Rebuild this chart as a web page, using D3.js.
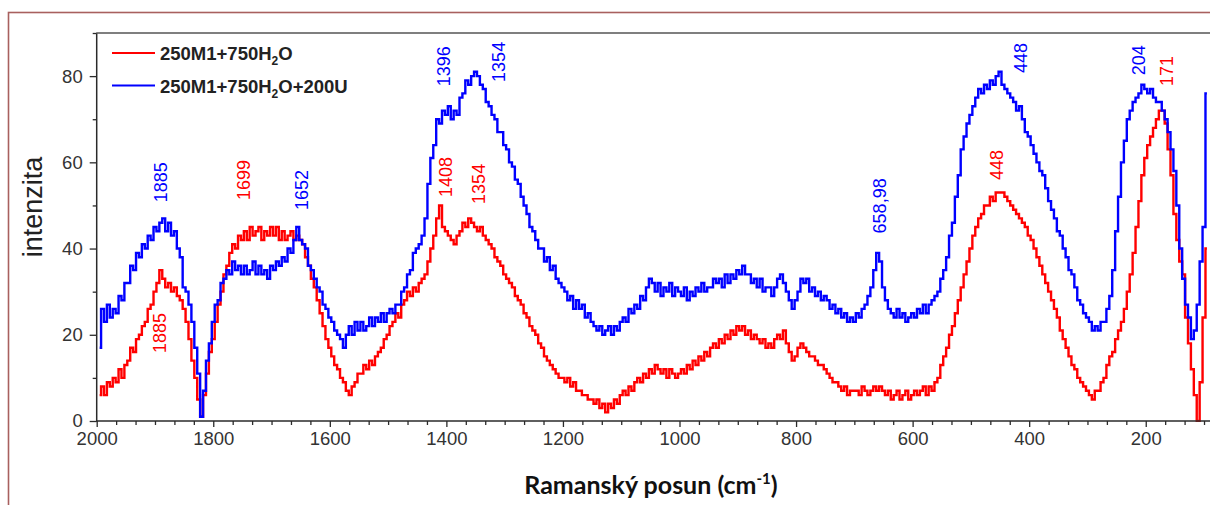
<!DOCTYPE html>
<html>
<head>
<meta charset="utf-8">
<script src="https://cdn.jsdelivr.net/npm/d3@7"></script>
<style>
  html, body { margin: 0; padding: 0; background: #fff; }
  svg { display: block; }
</style>
</head>
<body>
<svg id="chart" width="1210" height="505"></svg>
<script>
// Raman shift grid (cm-1), 1995 down to 95 in steps of 5
const ramanShift = d3.range(1995, 94, -5);

// 250M1+750H2O
const intensityWater = [
  6, 8, 6, 9, 8, 10, 9, 12, 10, 13,
  14, 17, 16, 19, 20, 22, 23, 26, 27, 30,
  32, 35, 33, 31, 32, 30, 31, 29, 28, 26,
  23, 19, 14, 10, 5, 1, 6, 11, 16, 19,
  23, 27, 30, 34, 36, 39, 41, 40, 43, 42,
  44, 42, 45, 43, 44, 45, 42, 44, 43, 45,
  43, 45, 42, 44, 42, 43, 44, 42, 43, 42,
  41, 38, 36, 33, 31, 28, 25, 22, 19, 17,
  15, 13, 12, 10, 9, 7, 6, 8, 9, 11,
  11, 13, 12, 14, 13, 15, 16, 17, 19, 20,
  22, 23, 25, 24, 27, 28, 30, 29, 31, 30,
  32, 33, 34, 37, 40, 43, 47, 50, 45, 44,
  43, 42, 41, 43, 44, 46, 45, 47, 46, 45,
  44, 45, 43, 42, 41, 40, 38, 37, 36, 34,
  33, 32, 31, 29, 28, 27, 25, 24, 22, 21,
  20, 18, 17, 15, 14, 13, 12, 11, 10, 10,
  9, 10, 8, 9, 7, 7, 6, 6, 5, 5,
  4, 5, 3, 4, 2, 4, 3, 5, 4, 6,
  7, 6, 8, 7, 9, 10, 9, 11, 10, 12,
  11, 13, 12, 11, 12, 10, 12, 11, 10, 11,
  12, 11, 13, 12, 14, 13, 15, 14, 16, 15,
  17, 18, 17, 19, 18, 20, 19, 21, 20, 22,
  21, 22, 20, 21, 19, 20, 19, 18, 19, 17,
  18, 17, 19, 20, 19, 21, 18, 16, 14, 15,
  17, 18, 17, 16, 15, 15, 14, 13, 13, 12,
  11, 10, 9, 9, 8, 7, 8, 6, 7, 7,
  7, 6, 8, 7, 6, 7, 8, 7, 8, 7,
  6, 7, 5, 6, 7, 5, 6, 7, 5, 6,
  7, 6, 7, 8, 6, 8, 7, 9, 10, 13,
  15, 17, 20, 22, 25, 28, 31, 34, 37, 40,
  43, 45, 47, 48, 50, 50, 52, 51, 53, 53,
  53, 52, 51, 50, 49, 48, 47, 46, 45, 43,
  42, 40, 38, 36, 34, 32, 30, 28, 26, 24,
  21, 19, 17, 15, 13, 12, 10, 9, 8, 7,
  6, 5, 7, 7, 9, 10, 13, 15, 16, 19,
  21, 23, 26, 30, 34, 39, 45, 51, 57, 61,
  64, 66, 68, 70, 72, 72, 69, 63, 57, 48,
  42, 37, 34, 24, 18, 12, 6, 0, 9, 24,
  40
];

// 250M1+750H2O+200U
const intensityUrea = [
  17, 26, 23, 27, 24, 26, 25, 29, 28, 32,
  32, 36, 35, 39, 38, 41, 40, 43, 42, 45,
  44, 46, 47, 44, 46, 43, 44, 40, 38, 31,
  30, 27, 23, 17, 11, 1, 7, 14, 18, 23,
  27, 28, 32, 33, 35, 34, 37, 35, 36, 34,
  36, 34, 35, 37, 34, 36, 34, 35, 33, 36,
  35, 37, 36, 38, 37, 40, 39, 42, 45, 42,
  41, 40, 36, 35, 33, 31, 30, 27, 26, 24,
  23, 21, 20, 19, 17, 20, 22, 20, 23, 21,
  23, 21, 22, 24, 22, 24, 23, 25, 23, 25,
  26, 25, 27, 27, 30, 31, 34, 35, 39, 40,
  41, 43, 47, 55, 61, 64, 70, 69, 72, 71,
  73, 70, 72, 71, 75, 76, 79, 78, 80, 81,
  80, 78, 77, 74, 73, 71, 70, 67, 67, 64,
  63, 60, 59, 56, 55, 52, 50, 48, 45, 44,
  42, 40, 40, 37, 38, 35, 36, 33, 32, 31,
  30, 28, 29, 26, 28, 26, 27, 24, 25, 23,
  22, 21, 22, 20, 21, 22, 20, 22, 21, 23,
  24, 23, 26, 25, 27, 26, 29, 28, 31, 33,
  32, 30, 32, 29, 31, 30, 32, 29, 31, 30,
  29, 31, 28, 30, 29, 31, 30, 32, 30, 31,
  31, 33, 32, 33, 31, 34, 32, 34, 33, 35,
  34, 36, 34, 34, 32, 33, 31, 33, 30, 31,
  31, 29, 31, 33, 34, 32, 30, 28, 26, 28,
  30, 33, 32, 33, 30, 31, 29, 30, 28, 29,
  28, 26, 27, 25, 26, 24, 25, 23, 24, 23,
  25, 24, 26, 27, 29, 31, 35, 39, 37, 31,
  28, 26, 25, 24, 26, 24, 25, 23, 24, 25,
  24, 26, 25, 27, 25, 27, 28, 29, 30, 33,
  35, 38, 43, 46, 52, 57, 63, 66, 69, 71,
  73, 75, 77, 76, 78, 77, 79, 78, 80, 81,
  78, 77, 76, 75, 74, 72, 73, 70, 67, 66,
  64, 62, 60, 58, 57, 54, 51, 49, 47, 44,
  43, 40, 38, 35, 34, 31, 28, 27, 25, 24,
  23, 21, 22, 21, 23, 23, 26, 29, 35, 44,
  52, 60, 65, 70, 72, 74, 75, 76, 78, 77,
  76, 77, 75, 74, 74, 72, 70, 67, 63, 58,
  50, 40, 33, 27, 24, 19, 21, 27, 37, 45,
  76
];

const seriesNames = ["250M1+750H", "250M1+750H"];
const seriesSuffix = ["O", "O+200U"];
const seriesColors = ["#ff0000", "#0000ff"];

const xTickValues = [2000, 1800, 1600, 1400, 1200, 1000, 800, 600, 400, 200];
const yTickValues = [0, 20, 40, 60, 80];
const yMinorValues = [10, 30, 50, 70, 90];

// Peak annotations: label, Raman shift and intensity where the label sits, series colour index
const peakText  = ["1885", "1885", "1699", "1652", "1396", "1354", "1408", "1354", "658,98", "448", "448", "204", "171"];
const peakShift = [1890, 1891, 1747, 1648, 1404, 1310, 1401, 1344, 656, 414, 455, 211, 163];
const peakLevel = [55.4, 20.4, 55.9, 53.6, 82.3, 83.3, 56.6, 55.0, 49.9, 84.2, 59.4, 83.7, 81.2];
const peakSeries = [1, 0, 0, 1, 1, 1, 0, 0, 1, 1, 0, 1, 0];

const svg = d3.select("#chart");
const plotLeft = 96.7, plotRight = 1210, plotTop = 33, plotBottom = 421;

const x = d3.scaleLinear().domain([2000, 90]).range([plotLeft, plotLeft + 1910 * 0.5828]);
const y = d3.scaleLinear().domain([0, 90]).range([plotBottom, plotTop]);

// outer frame
svg.append("rect")
  .attr("x", 8.5).attr("y", 12.5)
  .attr("width", 1260).attr("height", 600)
  .attr("fill", "none")
  .attr("stroke", "#a8605e")
  .attr("stroke-width", 1.6);

const axisColor = "#2a2a2a";
const tickFont = "'Liberation Sans', Arial, sans-serif";

// spectra
const plot = svg.append("g");
plot.append("clipPath").attr("id", "plotClip")
  .append("rect").attr("x", plotLeft).attr("y", plotTop - 2)
  .attr("width", plotRight - plotLeft).attr("height", plotBottom - plotTop + 3);

const line = d3.line()
  .x((d, i) => x(ramanShift[i]))
  .y(d => y(d))
  .curve(d3.curveStep);

const lines = plot.append("g").attr("clip-path", "url(#plotClip)");
[intensityWater, intensityUrea].forEach((vals, k) => {
  lines.append("path")
    .attr("d", line(vals))
    .attr("fill", "none")
    .attr("stroke", seriesColors[k])
    .attr("stroke-width", 2.4)
    .attr("stroke-linejoin", "miter");
});

// x axis: minor ticks every 200/6 cm-1, major every 200
const minorX = d3.range(2000, 89, -200 / 6).filter(v => Math.abs(v / 200 - Math.round(v / 200)) > 1e-6);
svg.append("g")
  .attr("transform", `translate(0,${plotBottom})`)
  .call(d3.axisBottom(x).tickValues(minorX).tickSize(4).tickFormat(""))
  .call(g => g.select(".domain").remove())
  .selectAll("line").attr("stroke", axisColor).attr("stroke-width", 1.3);

const xAxisG = svg.append("g")
  .attr("transform", `translate(0,${plotBottom})`)
  .call(d3.axisBottom(x).tickValues(xTickValues).tickSize(6).tickPadding(5).tickFormat(d3.format("d")));
xAxisG.select(".domain").remove();
xAxisG.selectAll("line").attr("stroke", axisColor).attr("stroke-width", 1.3);
xAxisG.selectAll("text").attr("font-family", tickFont).attr("font-size", 18.5).attr("fill", "#333");

// y axis
svg.append("g")
  .attr("transform", `translate(${plotLeft},0)`)
  .call(d3.axisLeft(y).tickValues(yMinorValues).tickSize(4).tickFormat(""))
  .call(g => g.select(".domain").remove())
  .selectAll("line").attr("stroke", axisColor).attr("stroke-width", 1.3);

const yAxisG = svg.append("g")
  .attr("transform", `translate(${plotLeft},0)`)
  .call(d3.axisLeft(y).tickValues(yTickValues).tickSize(7).tickPadding(7));
yAxisG.select(".domain").remove();
yAxisG.selectAll("line").attr("stroke", axisColor).attr("stroke-width", 1.3);
yAxisG.selectAll("text").attr("font-family", tickFont).attr("font-size", 18.5).attr("fill", "#333");

// axis lines and top border
const frame = svg.append("g").attr("stroke", axisColor).attr("stroke-width", 1.5);
frame.append("line").attr("x1", plotLeft).attr("x2", plotLeft).attr("y1", plotTop).attr("y2", plotBottom + 0.5);
frame.append("line").attr("x1", plotLeft - 0.5).attr("x2", plotRight).attr("y1", plotBottom).attr("y2", plotBottom);
frame.append("line").attr("x1", plotLeft - 0.5).attr("x2", plotRight).attr("y1", plotTop).attr("y2", plotTop).attr("stroke", "#555");

// axis titles
svg.append("text")
  .attr("transform", "translate(42,207) rotate(-90)")
  .attr("text-anchor", "middle")
  .attr("font-family", tickFont)
  .attr("font-size", 27)
  .attr("fill", "#222")
  .text("intenzita");

const xTitle = svg.append("text")
  .attr("x", 651).attr("y", 494)
  .attr("text-anchor", "middle")
  .attr("font-family", "Lato, 'Open Sans', sans-serif")
  .attr("font-weight", 700)
  .attr("font-size", 25)
  .attr("fill", "#111");
xTitle.append("tspan").text("Ramanský posun (cm");
xTitle.append("tspan").attr("dy", -10).attr("font-size", 15).text("-1");
xTitle.append("tspan").attr("dy", 10).text(")");

// legend
const legend = svg.append("g");
seriesNames.forEach((name, k) => {
  const ly = 53 + k * 32.5;
  legend.append("line")
    .attr("x1", 112).attr("x2", 155).attr("y1", ly).attr("y2", ly)
    .attr("stroke", seriesColors[k]).attr("stroke-width", 2.2);
  const t = legend.append("text")
    .attr("x", 160).attr("y", ly + 7)
    .attr("font-family", tickFont)
    .attr("font-weight", 700)
    .attr("font-size", 18.5)
    .attr("fill", "#222");
  t.append("tspan").text(name);
  t.append("tspan").attr("dy", 5).attr("font-size", 12).text("2");
  t.append("tspan").attr("dy", -5).text(seriesSuffix[k]);
});

// peak labels
svg.append("g").selectAll("text")
  .data(peakText)
  .join("text")
  .attr("transform", (d, i) => `translate(${x(peakShift[i])},${y(peakLevel[i])}) rotate(-90)`)
  .attr("text-anchor", "middle")
  .attr("dominant-baseline", "central")
  .attr("font-family", tickFont)
  .attr("font-size", 18)
  .attr("fill", (d, i) => seriesColors[peakSeries[i]])
  .text(d => d);
</script>
</body>
</html>
